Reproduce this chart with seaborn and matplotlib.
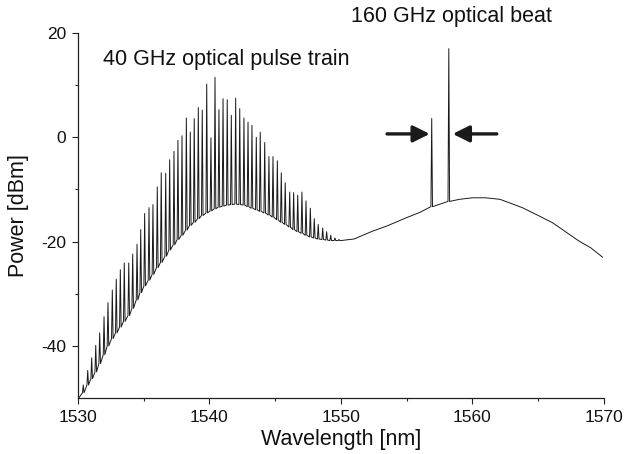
import numpy as np
import matplotlib
matplotlib.use("Agg")
import matplotlib.pyplot as plt
import seaborn as sns

# comb lines of the 40 GHz pulse train (nm, dBm), floor = level under each line
comb_nm = [1530.40, 1530.74, 1531.04, 1531.35, 1531.65, 1531.98, 1532.28, 1532.61, 1532.91, 1533.22,
           1533.52, 1533.86, 1534.16, 1534.49, 1534.77, 1535.07, 1535.40, 1535.70, 1536.03, 1536.33,
           1536.67, 1536.97, 1537.30, 1537.60, 1537.91, 1538.24, 1538.54, 1538.84, 1539.15, 1539.45,
           1539.79, 1540.11, 1540.42, 1540.72, 1541.03, 1541.35, 1541.66, 1541.99, 1542.30, 1542.62,
           1542.93, 1543.23, 1543.56, 1543.86, 1544.20, 1544.52, 1544.83, 1545.16, 1545.46, 1545.76,
           1546.10, 1546.40, 1546.71, 1547.03, 1547.34, 1547.67, 1547.97, 1548.27, 1548.61, 1548.91,
           1549.22, 1549.54, 1549.85]
comb_peak = [-47.5, -44.7, -42.3, -39.9, -37.5, -34.4, -31.7, -29.3, -27.2, -25.4,
             -24.1, -24.1, -22.4, -20.5, -17.7, -14.6, -13.5, -12.9, -9.5, -6.8,
             -6.9, -4.3, -2.7, -0.6, 0.3, 3.7, 1.0, 3.6, 5.7, 5.2,
             10.2, -0.1, 11.5, 5.3, 7.4, 7.2, 4.2, 7.5, 5.5, 3.7,
             2.9, 2.3, 0.0, 1.0, -1.0, -3.7, -3.7, -4.5, -6.8, -8.7,
             -10.5, -10.6, -11.1, -10.5, -12.2, -13.6, -15.6, -16.7, -17.4, -18.1,
             -18.8, -19.3, -19.6]
comb_floor = [-49.0, -47.5, -46.3, -45.0, -43.4, -41.7, -40.0, -38.6, -37.5, -36.4,
              -35.3, -34.2, -32.8, -31.2, -29.8, -28.5, -27.4, -26.3, -25.0, -24.0,
              -22.8, -21.6, -20.6, -19.6, -18.8, -17.8, -16.9, -16.3, -15.6, -15.0,
              -14.5, -14.1, -13.7, -13.4, -13.2, -13.0, -12.9, -12.8, -12.9, -13.0,
              -13.3, -13.6, -13.9, -14.2, -14.5, -14.9, -15.3, -15.8, -16.3, -16.7,
              -17.2, -17.7, -18.1, -18.4, -18.8, -19.1, -19.3, -19.5, -19.6, -19.7,
              -19.8, -19.8, -19.8]

# ASE background outside the comb
bg_nm = [1530.0, 1550.0, 1551.0, 1552.4, 1553.5, 1555.0, 1556.0,
         1559.0, 1560.0, 1561.0, 1562.1, 1563.8, 1565.0, 1566.1, 1568.1, 1569.0, 1569.9]
bg_dbm = [-50.2, -19.8, -19.5, -18.0, -17.0, -15.4, -14.4,
          -11.9, -11.6, -11.6, -11.9, -13.5, -15.0, -16.4, -19.9, -21.2, -23.0]

# the two lines of the 160 GHz beat
beat_nm = [1556.9, 1558.2]
beat_peak = [3.6, 17.0]
beat_floor = [-13.3, -12.3]

hw = 0.06  # half width of a spectral line on screen

xs = list(bg_nm)
ys = list(bg_dbm)
for p, h, f in zip(comb_nm + beat_nm, comb_peak + beat_peak, comb_floor + beat_floor):
    xs += [p - hw, p, p + hw]
    ys += [f, h, f]
order = np.argsort(xs)
xs = np.array(xs)[order]
ys = np.array(ys)[order]

sns.set_style("ticks")
plt.rcParams['font.family'] = ['Liberation Sans', 'DejaVu Sans']
plt.rcParams['axes.unicode_minus'] = False

fig = plt.figure(figsize=(6.29, 4.54), dpi=100)
ax = fig.add_axes([0.124, 0.1233, 0.8362, 0.804])

sns.lineplot(x=xs, y=ys, ax=ax, estimator=None, sort=False, color='#1a1a1a', lw=0.7)

ax.set_xlim(1530, 1570)
ax.set_ylim(-50, 20)
ax.set_xticks([1530, 1540, 1550, 1560, 1570])
ax.set_xticks([1535, 1545, 1555, 1565], minor=True)
ax.set_yticks([-40, -20, 0, 20])
ax.set_yticks([-30, -10, 10], minor=True)
ax.tick_params(which='major', length=4.3, width=0.8, labelsize=12.5, pad=4,
               color='#222222', labelcolor='#111111')
ax.tick_params(which='minor', length=2.4, width=0.8, color='#222222')
sns.despine(ax=ax)
for s in ['left', 'bottom']:
    ax.spines[s].set_linewidth(0.9)
    ax.spines[s].set_color('#222222')

ax.set_xlabel('Wavelength [nm]', fontsize=15.5, color='#111111')
ax.set_ylabel('Power [dBm]', fontsize=15.5, color='#111111')
ax.yaxis.set_label_coords(-0.093, 0.5)
ax.xaxis.set_label_coords(0.5, -0.085)

ax.text(1531.9, 13.8, '40 GHz optical pulse train', fontsize=15.5, va='baseline', ha='left',
        color='#111111')
ax.text(1558.4, 22.1, '160 GHz optical beat', fontsize=15.5, va='baseline', ha='center',
        color='#111111')

arrow = dict(arrowstyle='-|>,head_length=1.0,head_width=0.5', mutation_scale=10,
             lw=2.4, color='#1a1a1a', shrinkA=0, shrinkB=0)
ax.annotate('', xy=(1556.75, 0.65), xytext=(1553.5, 0.65), arrowprops=arrow)
ax.annotate('', xy=(1558.5, 0.65), xytext=(1561.85, 0.65), arrowprops=arrow)

plt.savefig('out.png', dpi=100)
